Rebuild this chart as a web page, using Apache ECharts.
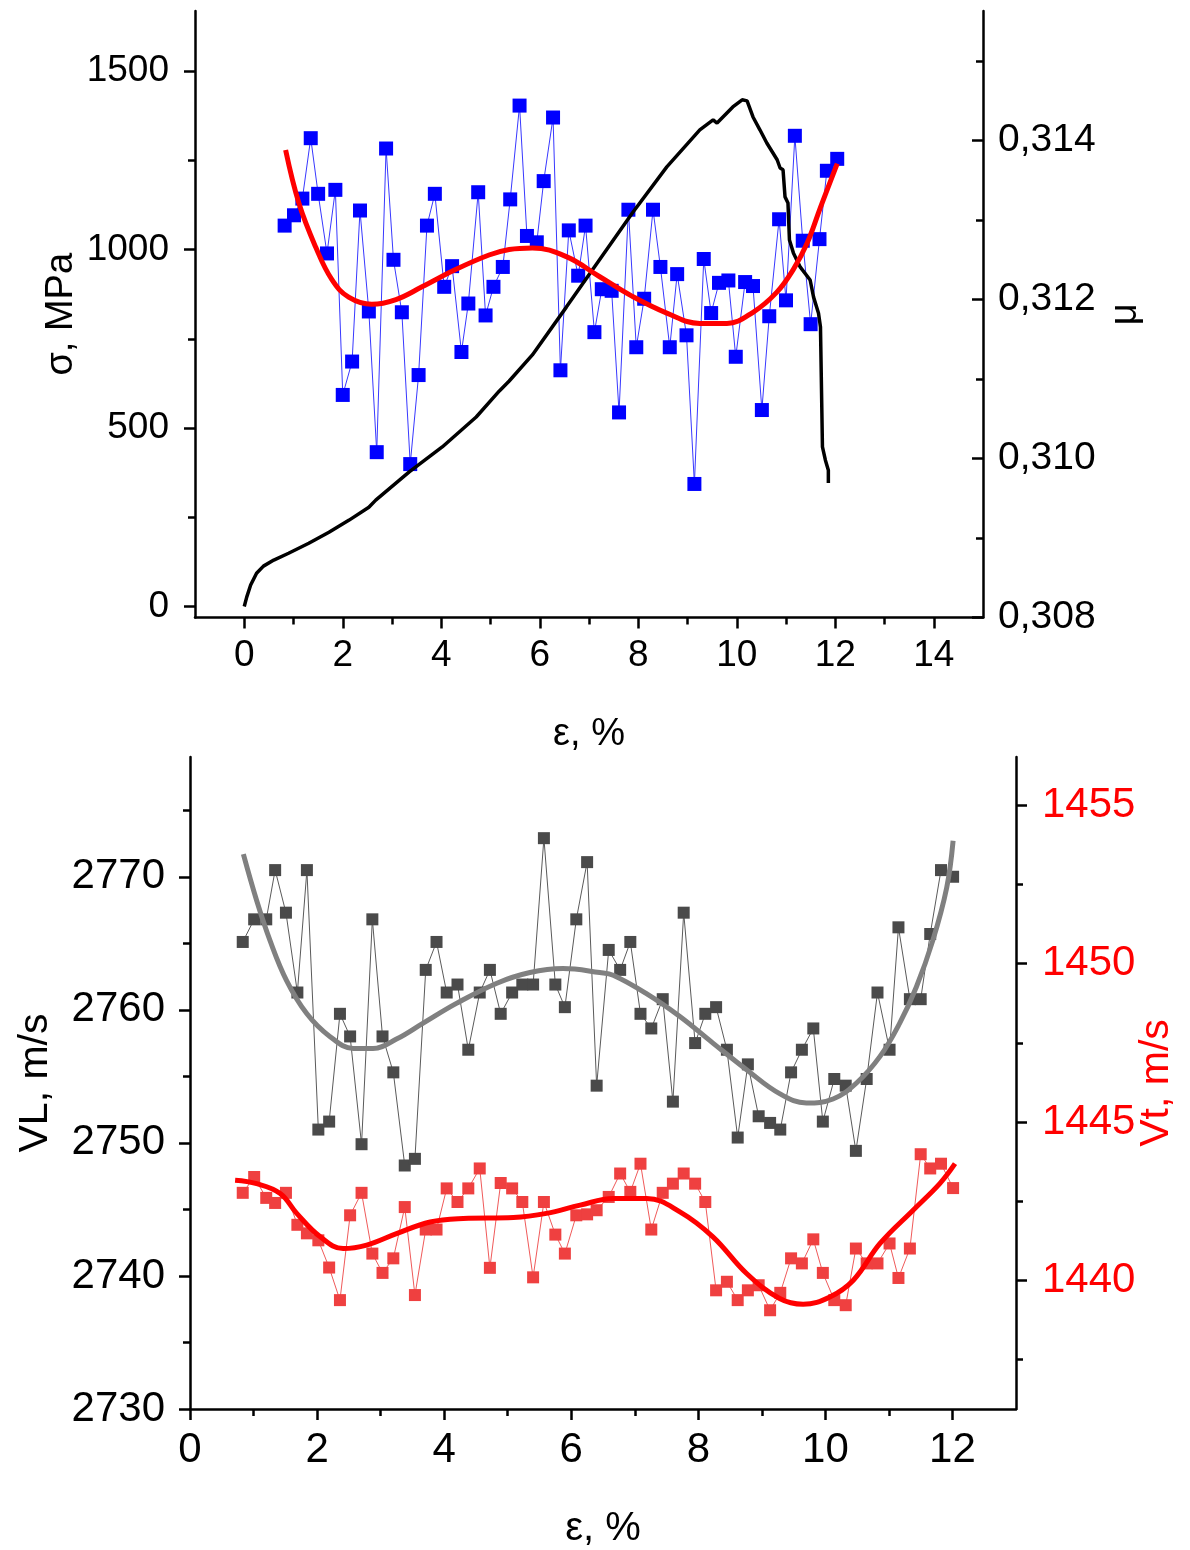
<!DOCTYPE html>
<html>
<head>
<meta charset="utf-8">
<script src="https://cdn.jsdelivr.net/npm/echarts@6/dist/echarts.min.js"></script>
<style>
html,body{margin:0;padding:0;background:#fff;}
#chart{width:1190px;height:1550px;}
</style>
</head>
<body>
<div id="chart"></div>
<script>
// ---------- DATA ----------
// Top panel: strain of the mu measurements, %
const strainMu = [0.82,1.01,1.18,1.35,1.50,1.68,1.85,2.00,2.19,2.35,2.53,2.69,2.88,3.03,3.20,3.37,3.54,3.71,3.87,4.06,4.22,4.41,4.55,4.75,4.90,5.06,5.25,5.40,5.59,5.74,5.94,6.08,6.27,6.42,6.59,6.78,6.93,7.11,7.26,7.46,7.61,7.80,7.96,8.12,8.30,8.45,8.64,8.79,8.98,9.14,9.33,9.48,9.64,9.83,9.98,10.17,10.33,10.51,10.66,10.86,11.00,11.18,11.34,11.50,11.68,11.83,12.04];
// Poisson ratio mu (right axis)
const muValues = [0.31293,0.31306,0.31327,0.31403,0.31333,0.31258,0.31338,0.31080,0.31122,0.31312,0.31185,0.31008,0.31390,0.31250,0.31184,0.30993,0.31105,0.31293,0.31333,0.31216,0.31242,0.31134,0.31195,0.31335,0.31180,0.31216,0.31241,0.31326,0.31444,0.31280,0.31272,0.31349,0.31429,0.31111,0.31287,0.31230,0.31293,0.31159,0.31213,0.31211,0.31058,0.31313,0.31140,0.31201,0.31313,0.31241,0.31140,0.31232,0.31155,0.30968,0.31251,0.31183,0.31221,0.31224,0.31128,0.31222,0.31217,0.31061,0.31179,0.31301,0.31199,0.31406,0.31274,0.31169,0.31276,0.31362,0.31377];
// mu fit curve
const muFitStrain = [0.84,1.11,1.45,1.78,2.12,2.59,3.08,3.61,4.30,4.97,5.38,5.85,6.54,7.21,7.88,8.58,9.25,9.80,10.33,10.81,11.15,11.43,11.70,12.04];
const muFit = [0.31388,0.31321,0.31266,0.31225,0.31203,0.31194,0.31200,0.31216,0.31238,0.31256,0.31263,0.31265,0.31254,0.31229,0.31204,0.31183,0.31170,0.31170,0.31184,0.31209,0.31238,0.31271,0.31316,0.31371];
// stress-strain curve, sigma in MPa
const sigmaStrain = [0,0.05,0.13,0.25,0.39,0.60,0.90,1.31,1.72,2.13,2.53,2.67,3.35,4.02,4.71,5.18,5.38,5.85,6.54,7.21,7.88,8.58,9.25,9.52,9.60,9.92,10.11,10.21,10.33,10.47,10.61,10.82,10.88,10.94,10.98,11.04,11.07,11.15,11.29,11.49,11.56,11.66,11.70,11.74,11.80,11.86,11.86];
const sigmaValues = [0,26,60,93,113,130,149,177,208,242,278,298,377,447,531,604,632,705,839,971,1103,1232,1336,1364,1355,1400,1420,1417,1372,1336,1299,1252,1229,1224,1148,1131,1027,991,951,915,867,822,783,447,410,382,346];

// Bottom panel: strain of velocity measurements, %
const strainV = [0.83,1.01,1.20,1.34,1.51,1.69,1.84,2.02,2.19,2.36,2.52,2.70,2.87,3.03,3.20,3.38,3.54,3.71,3.88,4.04,4.21,4.38,4.56,4.72,4.89,5.07,5.23,5.40,5.57,5.75,5.90,6.08,6.25,6.40,6.59,6.77,6.93,7.09,7.26,7.44,7.60,7.77,7.95,8.11,8.28,8.45,8.62,8.78,8.95,9.13,9.29,9.46,9.63,9.81,9.96,10.14,10.32,10.48,10.65,10.82,11.01,11.15,11.33,11.50,11.65,11.82,12.01];
// longitudinal velocity VL, m/s (left axis)
const vlValues = [2765.1,2766.8,2766.8,2770.5,2767.3,2761.3,2770.5,2751.0,2751.6,2759.7,2758.0,2749.9,2766.8,2758.0,2755.3,2748.3,2748.8,2763.0,2765.1,2761.3,2761.9,2757.0,2761.3,2763.0,2759.7,2761.3,2761.9,2761.9,2772.9,2761.9,2760.2,2766.8,2771.1,2754.3,2764.5,2763.0,2765.1,2759.7,2758.6,2760.8,2753.1,2767.3,2757.5,2759.7,2760.2,2757.0,2750.4,2755.9,2752.0,2751.5,2751.0,2755.3,2757.0,2758.6,2751.6,2754.8,2754.3,2749.4,2754.8,2761.3,2757.0,2766.2,2760.8,2760.8,2765.7,2770.5,2770.0];
// transverse velocity Vt, m/s (right axis)
const vtValues = [1442.76,1443.26,1442.60,1442.44,1442.76,1441.75,1441.48,1441.26,1440.40,1439.37,1442.05,1442.76,1440.84,1440.23,1440.69,1442.31,1439.53,1441.60,1441.60,1442.90,1442.47,1442.90,1443.53,1440.39,1443.07,1442.90,1442.47,1440.09,1442.47,1441.44,1440.84,1442.05,1442.08,1442.21,1442.63,1443.37,1442.79,1443.68,1441.60,1442.76,1443.05,1443.37,1443.05,1442.47,1439.68,1439.95,1439.37,1439.68,1439.84,1439.05,1439.60,1440.69,1440.53,1441.29,1440.23,1439.37,1439.21,1441.00,1440.53,1440.53,1441.16,1440.07,1441.00,1443.98,1443.53,1443.68,1442.91];
// fit curves
const vlFitStrain = [0.84,1.05,1.26,1.52,1.84,2.20,2.57,2.88,3.25,3.67,4.20,4.83,5.35,5.87,6.45,6.66,7.19,7.71,8.23,8.76,9.28,9.70,10.12,10.49,10.86,11.17,11.43,11.69,11.91,12.01];
const vlFit = [2771.7,2768.2,2765.2,2762.2,2759.7,2758.0,2757.1,2757.1,2757.8,2759.0,2760.5,2762.0,2762.8,2763.1,2762.8,2762.6,2761.2,2759.5,2757.5,2755.5,2753.7,2753.0,2753.3,2754.5,2756.5,2759.0,2761.7,2765.2,2769.2,2772.7];
const vtFitStrain = [0.71,1.05,1.42,1.68,2.05,2.41,2.78,3.25,3.78,4.30,5.09,5.61,6.14,6.66,7.19,7.71,8.23,8.76,9.28,9.65,10.07,10.44,10.86,11.38,11.80,12.04];
const vtFit = [1443.16,1443.05,1442.74,1442.11,1441.37,1441.00,1441.11,1441.47,1441.84,1441.95,1441.98,1442.11,1442.37,1442.58,1442.58,1442.16,1441.37,1440.21,1439.42,1439.24,1439.47,1440.00,1441.16,1442.21,1443.05,1443.68];

// ---------- TICKS ----------
const topXTicks = [0,2,4,6,8,10,12,14];
const topXMinor = [1,3,5,7,9,11,13];
const sigmaTicks = [0,500,1000,1500];
const sigmaMinor = [250,750,1250];
const muTicks = [0.308,0.310,0.312,0.314];
const muMinor = [0.309,0.311,0.313,0.315];
const botXTicks = [0,2,4,6,8,10,12];
const botXMinor = [1,3,5,7,9,11];
const vlTicks = [2730,2740,2750,2760,2770];
const vlMinor = [2735,2745,2755,2765,2775];
const vtTicks = [1440,1445,1450,1455];
const vtMinor = [1437.5,1442.5,1447.5,1452.5];

// ---------- BUILD ----------
const FONT = "'Liberation Sans', Arial, sans-serif";
const zip = (xs, ys) => xs.map((x, i) => [x, ys[i]]);
const plain = v => String(v);

function mainAxis(o) {
  return {
    type: 'value', gridIndex: o.grid, min: o.min, max: o.max, position: o.position,
    splitLine: { show: false },
    axisLine: { show: true, onZero: false, lineStyle: { color: '#000', width: 2.5 } },
    axisTick: { show: true, inside: !!o.inside, customValues: o.ticks, length: 11, lineStyle: { color: '#000', width: 2.5 } },
    axisLabel: { show: true, customValues: o.ticks, fontSize: o.fs, fontFamily: FONT, color: o.labelColor || '#000', margin: o.margin, formatter: o.fmt || plain, hideOverlap: false },
    name: o.name, nameLocation: 'middle', nameGap: o.nameGap, nameRotate: o.nameRotate,
    nameMoveOverlap: false,
    nameTextStyle: { fontSize: o.nameFs, fontFamily: FONT, color: o.labelColor || '#000' }
  };
}
function minorAxis(o) {
  return {
    type: 'value', gridIndex: o.grid, min: o.min, max: o.max, position: o.position,
    splitLine: { show: false },
    axisLine: { show: false, onZero: false },
    axisTick: { show: true, inside: !!o.inside, customValues: o.ticks, length: 7, lineStyle: { color: '#000', width: 2.5 } },
    axisLabel: { show: false }
  };
}

const TOP_Y_MIN = -31, TOP_Y_MAX = 1669;
const MU_MIN = 0.308, MU_MAX = 0.31563;
const VL_MIN = 2730, VL_MAX = 2779;
const VT_MIN = 1435.93, VT_MAX = 1456.53;

const option = {
  animation: false,
  backgroundColor: '#fff',
  grid: [
    { left: 195, top: 11, width: 788, height: 606.5, containLabel: false, outerBoundsMode: 'none' },
    { left: 190, top: 757, width: 826, height: 652, containLabel: false, outerBoundsMode: 'none' }
  ],
  xAxis: [
    mainAxis({ grid: 0, min: -1, max: 15, position: 'bottom', ticks: topXTicks, fs: 37, margin: 20, name: 'ε, %', nameGap: 98, nameFs: 38 }),
    minorAxis({ grid: 0, min: -1, max: 15, position: 'bottom', ticks: topXMinor }),
    mainAxis({ grid: 1, min: 0, max: 13, position: 'bottom', ticks: botXTicks, fs: 42, margin: 20, name: 'ε, %', nameGap: 100, nameFs: 40 }),
    minorAxis({ grid: 1, min: 0, max: 13, position: 'bottom', ticks: botXMinor })
  ],
  yAxis: [
    mainAxis({ grid: 0, min: TOP_Y_MIN, max: TOP_Y_MAX, position: 'left', ticks: sigmaTicks, fs: 37, margin: 26, name: 'σ, MPa', nameGap: 114, nameRotate: 90, nameFs: 38 }),
    minorAxis({ grid: 0, min: TOP_Y_MIN, max: TOP_Y_MAX, position: 'left', ticks: sigmaMinor }),
    mainAxis({ grid: 0, min: MU_MIN, max: MU_MAX, position: 'right', inside: true, ticks: muTicks, fs: 39, margin: 15,
               fmt: v => v.toFixed(3).replace('.', ','), name: 'μ', nameGap: 124, nameRotate: 90, nameFs: 38 }),
    minorAxis({ grid: 0, min: MU_MIN, max: MU_MAX, position: 'right', inside: true, ticks: muMinor }),
    mainAxis({ grid: 1, min: VL_MIN, max: VL_MAX, position: 'left', ticks: vlTicks, fs: 42, margin: 25, name: 'VL, m/s', nameGap: 134, nameRotate: 90, nameFs: 41 }),
    minorAxis({ grid: 1, min: VL_MIN, max: VL_MAX, position: 'left', ticks: vlMinor }),
    mainAxis({ grid: 1, min: VT_MIN, max: VT_MAX, position: 'right', ticks: vtTicks, fs: 42, margin: 26, labelColor: '#ff0000', name: 'Vt, m/s', nameGap: 120, nameRotate: 90, nameFs: 41 }),
    minorAxis({ grid: 1, min: VT_MIN, max: VT_MAX, position: 'right', ticks: vtMinor })
  ],
  series: [
    { name: 'mu', type: 'line', xAxisIndex: 0, yAxisIndex: 2, data: zip(strainMu, muValues),
      symbol: 'rect', symbolSize: 14, showAllSymbol: true,
      itemStyle: { color: '#0000ff' }, lineStyle: { color: '#3838ff', width: 1 }, z: 2 },
    { name: 'sigma', type: 'line', xAxisIndex: 0, yAxisIndex: 0, data: zip(sigmaStrain, sigmaValues),
      showSymbol: false, lineStyle: { color: '#000', width: 3.5 }, z: 3 },
    { name: 'mu fit', type: 'line', xAxisIndex: 0, yAxisIndex: 2, data: zip(muFitStrain, muFit),
      showSymbol: false, smooth: 0.4, lineStyle: { color: '#ff0000', width: 5 }, z: 4 },

    { name: 'VL', type: 'line', xAxisIndex: 2, yAxisIndex: 4, data: zip(strainV, vlValues),
      symbol: 'rect', symbolSize: 12, showAllSymbol: true,
      itemStyle: { color: '#4a4a4a' }, lineStyle: { color: '#5a5a5a', width: 1 }, z: 2 },
    { name: 'Vt', type: 'line', xAxisIndex: 2, yAxisIndex: 6, data: zip(strainV, vtValues),
      symbol: 'rect', symbolSize: 12, showAllSymbol: true,
      itemStyle: { color: '#ef4040' }, lineStyle: { color: '#f05a5a', width: 1 }, z: 2 },
    { name: 'VL fit', type: 'line', xAxisIndex: 2, yAxisIndex: 4, data: zip(vlFitStrain, vlFit),
      showSymbol: false, smooth: 0.4, lineStyle: { color: '#808080', width: 5 }, z: 4 },
    { name: 'Vt fit', type: 'line', xAxisIndex: 2, yAxisIndex: 6, data: zip(vtFitStrain, vtFit),
      showSymbol: false, smooth: 0.4, lineStyle: { color: '#ff0000', width: 5 }, z: 4 }
  ]
};

const chart = echarts.init(document.getElementById('chart'), null, { renderer: 'canvas' });
chart.setOption(option);
</script>
</body>
</html>
